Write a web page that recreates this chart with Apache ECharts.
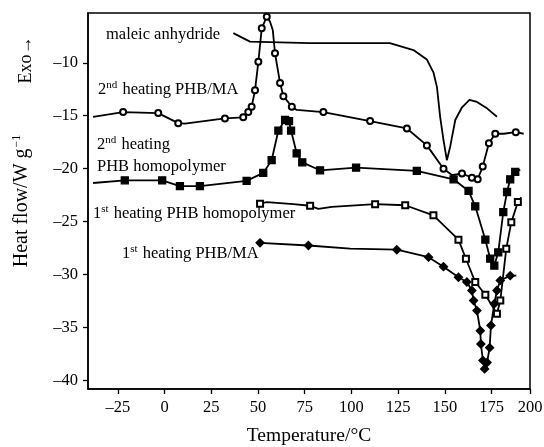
<!DOCTYPE html>
<html>
<head>
<meta charset="utf-8">
<script src="https://cdn.jsdelivr.net/npm/echarts@6/dist/echarts.min.js"></script>
<style>
html,body{margin:0;padding:0;background:#fff;}
#chart{width:544px;height:447px;}
</style>
</head>
<body>
<div id="chart"></div>
<script>
// [temperature °C, heat flow W/g, marker shown (1) or not (0)]
const maleicAnhydride = [
  [36.8,-7.2,0],[45.7,-8.0,0],[77.7,-8.15,0],[120.6,-8.15,0],[133.2,-8.8,0],
  [140.4,-9.7,0],[143.9,-10.9,0],[145.8,-12.3,0],[147.5,-15.1,0],[149.3,-17.3,0],
  [151.1,-19.2,0],[152.9,-17.9,0],[155.6,-15.4,0],[159.2,-14.2,0],[163.2,-13.5,0],
  [167.2,-13.7,0],[172.6,-14.3,0],[177.9,-15.1,0]
];
const heating2PhbMa = [
  [-38.3,-15.1,0],[-22.2,-14.65,1],[-3.4,-14.75,1],[7.3,-15.7,1],[10.9,-15.75,0],
  [32.3,-15.25,1],[42.1,-15.15,1],[44.8,-14.65,1],[46.6,-14.15,1],[48.4,-12.6,1],
  [50.2,-9.9,1],[52.0,-6.75,1],[54.7,-5.65,1],[56.4,-6.1,0],[57.9,-6.9,0],
  [59.1,-9.1,1],[61.8,-11.9,1],[63.6,-13.15,1],[68.1,-14.15,1],[70.7,-14.45,0],
  [85.0,-14.65,1],[110.0,-15.5,1],[129.7,-16.2,1],[140.4,-17.8,1],[149.3,-20.0,1],
  [153.8,-20.6,0],[159.2,-20.45,1],[164.5,-20.85,1],[167.6,-21.0,1],[170.3,-19.8,1],
  [173.6,-17.6,1],[177.0,-16.7,1],[181.5,-16.7,0],[188.0,-16.55,1],[192.2,-16.7,0]
];
const heating2Homopolymer = [
  [-38.3,-21.35,0],[-21.3,-21.1,1],[-1.3,-21.1,1],[8.2,-21.65,1],[18.9,-21.65,1],
  [43.9,-21.15,1],[52.8,-20.4,1],[57.3,-19.2,1],[60.9,-16.4,1],[64.5,-15.4,1],
  [66.6,-15.5,1],[67.7,-16.4,1],[70.7,-18.55,1],[73.7,-19.4,1],[83.2,-20.15,1],
  [102.5,-19.9,1],[135.0,-20.2,1],[154.7,-21.0,1],[162.7,-22.1,1],[166.3,-23.55,1],
  [171.7,-26.7,1],[174.3,-28.5,1],[176.5,-29.15,1],[178.6,-27.9,1],[181.3,-24.1,1],
  [183.3,-22.2,1],[185.0,-21.0,1],[187.7,-20.3,1],[190.4,-20.1,0]
];
const heating1Homopolymer = [
  [51.1,-23.3,1],[54.7,-23.15,0],[68.9,-23.35,0],[77.9,-23.5,1],[82.3,-23.8,0],
  [89.5,-23.6,0],[112.7,-23.35,1],[128.8,-23.45,1],[143.9,-24.4,1],[157.3,-26.7,1],
  [161.3,-28.5,1],[166.3,-30.7,1],[171.7,-31.9,1],[177.9,-33.7,1],[179.7,-32.45,1],
  [182.9,-27.55,1],[185.6,-25.05,1],[189.1,-23.15,1],[190.9,-22.7,0]
];
const heating1PhbMa = [
  [51.1,-27.0,1],[77.0,-27.25,1],[99.3,-27.55,0],[124.3,-27.65,1],[141.3,-28.35,1],
  [149.3,-29.25,1],[157.3,-30.25,1],[161.8,-30.7,1],[164.5,-31.5,1],[165.4,-32.45,1],
  [167.2,-33.4,1],[169.0,-35.3,1],[169.3,-36.55,1],[170.4,-38.1,1],[171.3,-38.9,1],
  [172.6,-38.3,1],[174.0,-36.9,1],[174.7,-34.8,1],[176.5,-32.75,1],[177.9,-31.5,1],
  [179.7,-30.55,1],[185.0,-30.1,1],[188.3,-30.1,0]
];
const xTickValues = [-25,0,25,50,75,100,125,150,175,195.6];
const xTickLabels = ['–25','0','25','50','75','100','125','150','175','200'];
const yTickValues = [-40,-35,-30,-25,-20,-15,-10];

const FONT = '"Liberation Serif","DejaVu Serif",serif';

function toData(arr){
  return arr.map(p => p[2] ? {value:[p[0],p[1]]} : {value:[p[0],p[1]], symbol:'none'});
}
function mkSeries(name, arr, symbol, size){
  return {
    name, type:'line', data: toData(arr), symbol, symbolSize:size,
    showAllSymbol:true, animation:false, color:'#000',
    lineStyle:{color:'#000', width:1.8},
    itemStyle:{color:'#000', borderColor:'#000', borderWidth:1.3},
    emphasis:{disabled:true}
  };
}

const chart = echarts.init(document.getElementById('chart'), null, {renderer:'canvas'});
const supRich = {s:{fontSize:11, fontFamily:FONT, fill:'#000', verticalAlign:'top', padding:[0,1,8,0]}};
const LF = 16.5;

chart.setOption({
  animation:false,
  backgroundColor:'#fff',
  grid:{left:88, right:14, top:13, bottom:58, containLabel:false, outerBoundsMode:'none',
    show:true, borderColor:'#000', borderWidth:1.5, backgroundColor:'transparent'},
  xAxis:{
    type:'value', min:-41, max:195.6,
    axisLine:{show:true, onZero:false, lineStyle:{color:'#000', width:1.5}},
    axisTick:{show:true, inside:false, length:5, lineStyle:{color:'#000', width:1.3}, customValues:xTickValues},
    axisLabel:{color:'#000', fontSize:16.5, fontFamily:FONT, margin:10, customValues:xTickValues,
      formatter: v => { const i = xTickValues.indexOf(v); return i>=0 ? xTickLabels[i] : ''; }},
    splitLine:{show:false},
    name:'Temperature/°C', nameLocation:'middle', nameGap:37,
    nameTextStyle:{color:'#000', fontSize:19.5, fontFamily:FONT}
  },
  yAxis:{
    type:'value', min:-40.8, max:-5.3,
    axisLine:{show:true, onZero:false, lineStyle:{color:'#000', width:1.5}},
    axisTick:{show:true, inside:false, length:5, lineStyle:{color:'#000', width:1.3}, customValues:yTickValues},
    axisLabel:{color:'#000', fontSize:16.5, fontFamily:FONT, margin:10, customValues:yTickValues,
      formatter: v => String(v).replace('-','–')},
    splitLine:{show:false},
    name:'Heat flow/W g{s|−1}', nameLocation:'middle', nameGap:55, nameRotate:90,
    nameTextStyle:{color:'#000', fontSize:20, fontFamily:FONT,
      rich:{s:{fontSize:12, fontFamily:FONT, color:'#000', verticalAlign:'top', padding:[0,0,10,1]}}}
  },
  series:[
    mkSeries('maleic anhydride', maleicAnhydride, 'none', 0),
    mkSeries('2nd heating PHB/MA', heating2PhbMa, 'emptyCircle', 6),
    mkSeries('2nd heating PHB homopolymer', heating2Homopolymer, 'rect', 7),
    mkSeries('1st heating PHB homopolymer', heating1Homopolymer, 'emptyRect', 6),
    mkSeries('1st heating PHB/MA', heating1PhbMa, 'diamond', 8)
  ],
  graphic:[
    {type:'text', left:106, top:26, silent:true, style:{text:'maleic anhydride', font:LF+'px '+FONT, fill:'#000'}},
    {type:'text', left:98, top:80, silent:true, style:{text:'2{s|nd} heating PHB/MA', fontSize:LF, fontFamily:FONT, fill:'#000', rich:supRich}},
    {type:'text', left:97, top:135, silent:true, style:{text:'2{s|nd} heating', fontSize:LF, fontFamily:FONT, fill:'#000', rich:supRich}},
    {type:'text', left:97, top:158, silent:true, style:{text:'PHB homopolymer', font:LF+'px '+FONT, fill:'#000'}},
    {type:'text', left:93, top:204, silent:true, style:{text:'1{s|st} heating PHB homopolymer', fontSize:LF, fontFamily:FONT, fill:'#000', rich:supRich}},
    {type:'text', left:122, top:244, silent:true, style:{text:'1{s|st} heating PHB/MA', fontSize:LF, fontFamily:FONT, fill:'#000', rich:supRich}},
    {type:'text', x:26, y:60, rotation:Math.PI/2, silent:true, style:{text:'Exo→', font:'18px '+FONT, fill:'#000', align:'center', verticalAlign:'middle'}}
  ]
});
</script>
</body>
</html>
